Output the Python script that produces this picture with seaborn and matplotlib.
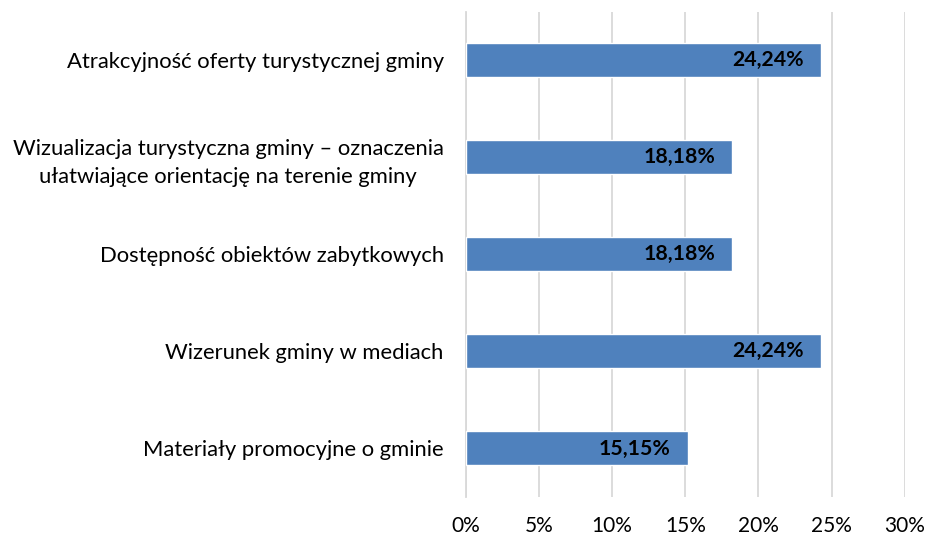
import matplotlib
matplotlib.use("Agg")
import matplotlib.pyplot as plt
import seaborn as sns
import pandas as pd

categories = [
    "Atrakcyjność oferty turystycznej gminy",
    "Wizualizacja turystyczna gminy – oznaczenia\nułatwiające orientację na terenie gminy",
    "Dostępność obiektów zabytkowych",
    "Wizerunek gminy w mediach",
    "Materiały promocyjne o gminie",
]
values = [24.24, 18.18, 18.18, 24.24, 15.15]
value_labels = ["24,24%", "18,18%", "18,18%", "24,24%", "15,15%"]
xticks = [0, 5, 10, 15, 20, 25, 30]
xtick_labels = ["0%", "5%", "10%", "15%", "20%", "25%", "30%"]

sns.set_theme(style="white")
plt.rcParams["font.family"] = ["Lato", "DejaVu Sans"]

df = pd.DataFrame({"cat": categories, "val": values})

fig = plt.figure(figsize=(9.28, 5.37), dpi=100)
ax = fig.add_axes([0.502, 0.0745, 0.473, 0.9035])

sns.barplot(data=df, y="cat", x="val", orient="h", color="#4F81BD",
            saturation=1, width=0.35, ax=ax, zorder=3)

ax.set_xlim(0, 30)
ax.set_ylim(4.5, -0.5)
ax.set_xticks(xticks)
ax.set_xticklabels(xtick_labels, fontsize=15, color="#000000")
ax.tick_params(axis="x", length=0, pad=14)
ax.tick_params(axis="y", length=0, pad=16)
for lbl in ax.get_yticklabels():
    lbl.set_fontsize(15.8)
    lbl.set_color("#000000")
    lbl.set_multialignment("center")
    lbl.set_linespacing(1.45)
ax.set_xlabel("")
ax.set_ylabel("")
ax.xaxis.grid(True, color="#D9D9D9", linewidth=1.3, zorder=0)
ax.set_axisbelow(True)
for s in ["top", "right", "bottom"]:
    ax.spines[s].set_visible(False)
ax.spines["left"].set_color("#D9D9D9")
ax.spines["left"].set_linewidth(1.3)

for i, (v, t) in enumerate(zip(values, value_labels)):
    ax.annotate(t, xy=(v, i), xytext=(-12, 0), textcoords="offset points",
                ha="right", va="center", fontsize=15.3, fontweight="bold",
                color="#000000", zorder=5)

fig.savefig("out.png", dpi=100, facecolor="white")
